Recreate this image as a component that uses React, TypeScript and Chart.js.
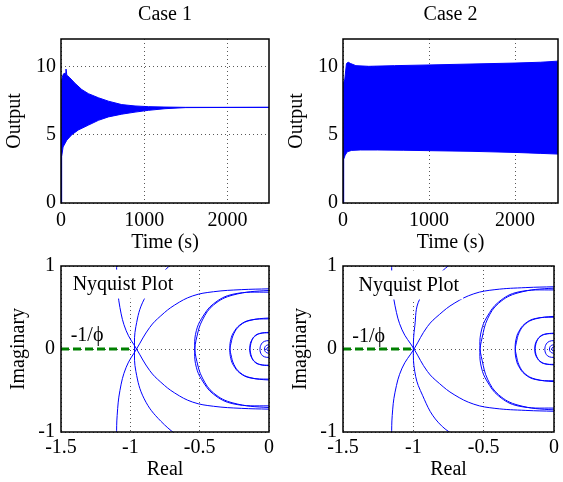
import React, { useEffect, useRef } from 'react';
import { Chart, registerables } from 'chart.js';

Chart.register(...registerables);

const FONT = '"Liberation Serif", "Times New Roman", Times, serif';
const PAGE_W = 563;
const PAGE_H = 482;
const BLUE = '#0000ff';
const GREEN = '#008000';

// ---------------- Top row: time responses ----------------
const timeTicks = [0, 1000, 2000];
const timeTickLabels = ['0', '1000', '2000'];
const outputTicks = [0, 5, 10];
const outputTickLabels = ['0', '5', '10'];

// Case 1: envelope of the decaying oscillation
const case1UpperT = [0, 4, 15, 30, 50, 60, 70, 100, 170, 250, 330, 450, 570, 730, 890, 1050, 1250, 1500, 2500];
const case1UpperY = [0, 8.8, 9.2, 9.45, 9.5, 9.8, 9.35, 9.2, 8.75, 8.3, 8.0, 7.7, 7.45, 7.2, 7.1, 7.05, 7.02, 7.0, 7.0];
const case1LowerT = [0, 8, 25, 70, 130, 210, 330, 450, 570, 730, 890, 1050, 1250, 1500, 2500];
const case1LowerY = [0, 3.4, 4.1, 4.6, 5.0, 5.35, 5.7, 6.05, 6.3, 6.5, 6.65, 6.78, 6.9, 6.98, 7.0];

// Case 2: envelope of the sustained oscillation
const case2UpperT = [0, 4, 20, 40, 60, 90, 150, 300, 600, 1000, 1500, 2000, 2300, 2500];
const case2UpperY = [0, 8.8, 9.0, 10.2, 10.3, 10.2, 10.05, 10.0, 10.05, 10.1, 10.17, 10.24, 10.3, 10.38];
const case2LowerT = [0, 8, 25, 50, 100, 200, 400, 700, 1000, 1500, 2000, 2300, 2500];
const case2LowerY = [0, 3.2, 3.5, 3.75, 3.85, 3.88, 3.88, 3.86, 3.83, 3.78, 3.7, 3.63, 3.58];

// ---------------- Bottom row: Nyquist plots ----------------
const realTicks = [-1.5, -1, -0.5, 0];
const realTickLabels = ['-1.5', '-1', '-0.5', '0'];
const imagTicks = [-1, 0, 1];
const imagTickLabels = ['-1', '0', '1'];

type Pt = [number, number];

// Case 1 Nyquist curves
const n1OuterA: Pt[] = [[0.05, 0.728], [0, 0.725], [-0.2, 0.715], [-0.4, 0.69], [-0.55, 0.64], [-0.68, 0.53], [-0.78, 0.4], [-0.86, 0.26], [-0.955, 0], [-1.03, -0.22], [-1.075, -0.5], [-1.095, -0.8], [-1.1, -1.05]];
const n1OuterB: Pt[] = [[0.05, -0.728], [0, -0.725], [-0.2, -0.715], [-0.4, -0.69], [-0.55, -0.64], [-0.68, -0.53], [-0.78, -0.4], [-0.86, -0.26], [-0.955, 0], [-1.03, 0.22], [-1.075, 0.5], [-1.095, 0.8], [-1.1, 1.05]];
const n1Loop1: Pt[] = [[-0.55, 1.2], [-0.75, 0.95], [-0.9, 0.6], [-0.96, 0.27], [-0.97, 0], [-0.96, -0.27], [-0.9, -0.6], [-0.78, -0.87], [-0.58, -1.15]];
const n1Loop2A: Pt[] = [[0.2, 0.69], [0, 0.705], [-0.26, 0.65], [-0.4, 0.53], [-0.48, 0.35], [-0.52, 0.15], [-0.536, -0.04], [-0.524, -0.22], [-0.485, -0.37], [-0.4, -0.545], [-0.26, -0.66], [0, -0.685], [0.2, -0.67]];
const n1Loop2B: Pt[] = [[0.2, -0.69], [0, -0.705], [-0.26, -0.65], [-0.4, -0.53], [-0.48, -0.35], [-0.52, -0.15], [-0.536, 0.04], [-0.524, 0.22], [-0.485, 0.37], [-0.4, 0.545], [-0.26, 0.66], [0, 0.685], [0.2, 0.67]];
const n1Loop3A: Pt[] = [[0.105, 0.365], [0, 0.373], [-0.137, 0.344], [-0.21, 0.283], [-0.253, 0.186], [-0.274, 0.07], [-0.282, -0.021], [-0.275, -0.117], [-0.256, -0.198], [-0.21, -0.29], [-0.137, -0.348], [0, -0.363], [0.105, -0.355]];
const n1Loop3B: Pt[] = [[0.105, -0.365], [0, -0.373], [-0.137, -0.344], [-0.21, -0.283], [-0.253, -0.186], [-0.274, -0.07], [-0.282, 0.021], [-0.275, 0.117], [-0.256, 0.198], [-0.21, 0.29], [-0.137, 0.348], [0, 0.363], [0.105, 0.355]];
const n1Loop4A: Pt[] = [[0.051, 0.197], [0, 0.201], [-0.067, 0.185], [-0.103, 0.152], [-0.124, 0.1], [-0.134, 0.037], [-0.138, -0.011], [-0.135, -0.063], [-0.125, -0.106], [-0.103, -0.157], [-0.067, -0.188], [0, -0.195], [0.051, -0.191]];
const n1Loop4B: Pt[] = [[0.051, -0.197], [0, -0.201], [-0.067, -0.185], [-0.103, -0.152], [-0.124, -0.1], [-0.134, -0.037], [-0.138, 0.011], [-0.135, 0.063], [-0.125, 0.106], [-0.103, 0.157], [-0.067, 0.188], [0, 0.195], [0.051, 0.191]];
const n1Loop5: Pt[] = [[0.033, 0.089], [0, 0.1], [-0.033, 0.092], [-0.055, 0.06], [-0.065, -0.005], [-0.055, -0.065], [-0.033, -0.094], [0, -0.1], [0.033, -0.087]];
const n1Loop6: Pt[] = [[0.016, 0.043], [0, 0.05], [-0.016, 0.045], [-0.028, 0.028], [-0.032, 0], [-0.028, -0.028], [-0.016, -0.045], [0, -0.05], [0.016, -0.043]];
const n1Loop7: Pt[] = [[0, 0.025], [-0.008, 0.022], [-0.014, 0.0125], [-0.016, 0], [-0.014, -0.0125], [-0.008, -0.022], [0, -0.025]];
const n1Critical: Pt[] = [[-1.5, 0], [-0.99, 0]];

// Case 2 Nyquist curves
const n2OuterA: Pt[] = [[0.05, 0.753], [0, 0.75], [-0.2, 0.74], [-0.42, 0.715], [-0.57, 0.665], [-0.71, 0.55], [-0.815, 0.415], [-0.9, 0.27], [-0.995, 0], [-1.08, -0.23], [-1.13, -0.52], [-1.15, -0.8], [-1.155, -1.05]];
const n2OuterB: Pt[] = [[0.05, -0.753], [0, -0.75], [-0.2, -0.74], [-0.42, -0.715], [-0.57, -0.665], [-0.71, -0.55], [-0.815, -0.415], [-0.9, -0.27], [-0.995, 0], [-1.08, 0.23], [-1.13, 0.52], [-1.15, 0.8], [-1.155, 1.05]];
const n2Loop1: Pt[] = [[-0.58, 1.2], [-0.8, 0.93], [-0.955, 0.6], [-0.99, 0.27], [-1.0, 0], [-0.99, -0.27], [-0.95, -0.5], [-0.82, -0.89], [-0.6, -1.15]];
const n2Loop2A: Pt[] = [[0.197, 0.718], [0, 0.733], [-0.256, 0.676], [-0.393, 0.552], [-0.472, 0.364], [-0.511, 0.135], [-0.527, -0.042], [-0.515, -0.229], [-0.477, -0.385], [-0.393, -0.567], [-0.256, -0.686], [0, -0.712], [0.197, -0.697]];
const n2Loop2B: Pt[] = [[0.197, -0.718], [0, -0.733], [-0.256, -0.676], [-0.393, -0.552], [-0.472, -0.364], [-0.511, -0.135], [-0.527, 0.042], [-0.515, 0.229], [-0.477, 0.385], [-0.393, 0.567], [-0.256, 0.686], [0, 0.712], [0.197, 0.697]];
const n2Loop3A: Pt[] = [[0.103, 0.385], [0, 0.393], [-0.134, 0.362], [-0.206, 0.298], [-0.248, 0.196], [-0.268, 0.074], [-0.276, -0.022], [-0.269, -0.123], [-0.251, -0.208], [-0.206, -0.306], [-0.134, -0.367], [0, -0.383], [0.103, -0.374]];
const n2Loop3B: Pt[] = [[0.103, -0.385], [0, -0.393], [-0.134, -0.362], [-0.206, -0.298], [-0.248, -0.196], [-0.268, -0.074], [-0.276, 0.022], [-0.269, 0.123], [-0.251, 0.208], [-0.206, 0.306], [-0.134, 0.367], [0, 0.383], [0.103, 0.374]];
const n2Loop4A: Pt[] = [[0.05, 0.187], [0, 0.191], [-0.066, 0.176], [-0.101, 0.144], [-0.122, 0.095], [-0.132, 0.035], [-0.136, -0.01], [-0.133, -0.06], [-0.123, -0.1], [-0.101, -0.149], [-0.066, -0.179], [0, -0.185], [0.05, -0.181]];
const n2Loop4B: Pt[] = [[0.05, -0.187], [0, -0.191], [-0.066, -0.176], [-0.101, -0.144], [-0.122, -0.095], [-0.132, -0.035], [-0.136, 0.01], [-0.133, 0.06], [-0.123, 0.1], [-0.101, 0.149], [-0.066, 0.179], [0, 0.185], [0.05, 0.181]];
const n2Loop5: Pt[] = [[0.033, 0.089], [0, 0.1], [-0.033, 0.092], [-0.055, 0.06], [-0.065, -0.005], [-0.055, -0.065], [-0.033, -0.094], [0, -0.1], [0.033, -0.087]];
const n2Loop6: Pt[] = [[0.016, 0.043], [0, 0.05], [-0.016, 0.045], [-0.028, 0.028], [-0.032, 0], [-0.028, -0.028], [-0.016, -0.045], [0, -0.05], [0.016, -0.043]];
const n2Loop7: Pt[] = [[0, 0.025], [-0.008, 0.022], [-0.014, 0.0125], [-0.016, 0], [-0.014, -0.0125], [-0.008, -0.022], [0, -0.025]];
const n2Critical: Pt[] = [[-1.5, 0], [-1.0, 0]];

const nyquistLabel = 'Nyquist Plot';
const phiLabel = '-1/\u03d5';

// ---------------- helpers ----------------
const zipXY = (xs: number[], ys: number[]) => xs.map((x, i) => ({ x, y: ys[i] }));
const toXY = (pts: Pt[]) => pts.map(([x, y]) => ({ x, y }));

const bandDatasets = (uT: number[], uY: number[], lT: number[], lY: number[]) => [
  {
    data: zipXY(uT, uY),
    borderColor: BLUE,
    backgroundColor: BLUE,
    borderWidth: 1,
    pointRadius: 0,
    tension: 0,
    fill: '+1',
  },
  {
    data: zipXY(lT, lY),
    borderColor: BLUE,
    backgroundColor: BLUE,
    borderWidth: 1,
    pointRadius: 0,
    tension: 0,
    fill: false,
  },
];

const curve = (pts: Pt[]) => ({
  data: toXY(pts),
  borderColor: BLUE,
  borderWidth: 1,
  pointRadius: 0,
  showLine: true,
  tension: 0.4,
  fill: false,
});

const critical = (pts: Pt[]) => ({
  data: toXY(pts),
  borderColor: GREEN,
  borderWidth: 3,
  borderDash: [8, 4],
  pointRadius: 0,
  showLine: true,
  tension: 0,
  fill: false,
});

const frameAndText = {
  id: 'frameAndText',
  afterDatasetsDraw(chart: any, _args: any, opts: any) {
    const { ctx, chartArea: a, scales } = chart;
    ctx.save();
    const texts = (opts && opts.texts) || [];
    texts.forEach((t: any) => {
      ctx.font = `20px ${FONT}`;
      const x = scales.x.getPixelForValue(t.x);
      const y = scales.y.getPixelForValue(t.y);
      const w = ctx.measureText(t.text).width;
      if (t.bg) {
        ctx.fillStyle = '#ffffff';
        ctx.fillRect(x - 4, y - 15.5, w + 8, 29);
      }
      ctx.fillStyle = '#000000';
      ctx.textAlign = 'left';
      ctx.textBaseline = 'middle';
      ctx.fillText(t.text, x, y);
    });
    ctx.strokeStyle = '#000000';
    ctx.lineWidth = 1.5;
    ctx.strokeRect(a.left, a.top, a.right - a.left, a.bottom - a.top);
    ctx.restore();
  },
};

interface Panel {
  type: 'line' | 'scatter';
  padding: { left: number; top: number; right: number; bottom: number };
  yWidth: number;
  xHeight: number;
  title?: string;
  xMin: number; xMax: number; yMin: number; yMax: number;
  xTicks: number[]; xTickLabels: string[];
  yTicks: number[]; yTickLabels: string[];
  xTitle: string; yTitle: string;
  xTickPad: number; yTickPad: number; yTitlePad: number;
  datasets: any[];
  texts?: any[];
}

const font = { family: FONT, size: 20, weight: 'normal' as const };

function buildConfig(p: Panel): any {
  const lab = (ticks: number[], labels: string[]) => (v: number) => {
    const i = ticks.findIndex((t) => Math.abs(t - v) < 1e-9);
    return i >= 0 ? labels[i] : '';
  };
  return {
    type: p.type,
    data: { datasets: p.datasets },
    options: {
      responsive: false,
      animation: false,
      devicePixelRatio: 1,
      events: [],
      layout: { padding: p.padding },
      elements: { line: { capBezierPoints: false } },
      plugins: {
        legend: { display: false },
        tooltip: { enabled: false },
        title: p.title
          ? { display: true, text: p.title, fullSize: false, color: '#000', font, padding: { top: 3, bottom: 12 } }
          : { display: false },
        frameAndText: { texts: p.texts || [] },
      },
      scales: {
        x: {
          type: 'linear',
          min: p.xMin,
          max: p.xMax,
          afterBuildTicks: (s: any) => { s.ticks = p.xTicks.map((v) => ({ value: v })); },
          afterFit: (s: any) => { s.height = p.xHeight; },
          ticks: { callback: lab(p.xTicks, p.xTickLabels), color: '#000', font, padding: p.xTickPad, maxRotation: 0, autoSkip: false },
          grid: { color: 'rgba(0,0,0,0.65)', lineWidth: 1, drawTicks: false },
          border: { display: false, dash: [1, 3] },
          title: { display: true, text: p.xTitle, color: '#000', font, padding: { top: 0, bottom: 0 } },
        },
        y: {
          type: 'linear',
          min: p.yMin,
          max: p.yMax,
          afterBuildTicks: (s: any) => { s.ticks = p.yTicks.map((v) => ({ value: v })); },
          afterFit: (s: any) => { s.width = p.yWidth; },
          ticks: { callback: lab(p.yTicks, p.yTickLabels), color: '#000', font, padding: p.yTickPad, autoSkip: false },
          grid: { color: 'rgba(0,0,0,0.65)', lineWidth: 1, drawTicks: false },
          border: { display: false, dash: [1, 3] },
          title: { display: true, text: p.yTitle, color: '#000', font, padding: { top: p.yTitlePad, bottom: 0 } },
        },
      },
    },
    plugins: [frameAndText],
  };
}

const panels: Panel[] = [
  {
    type: 'line',
    padding: { left: 0, top: 0, right: 294, bottom: 227 },
    yWidth: 61, xHeight: 52, title: 'Case 1',
    xMin: 0, xMax: 2500, yMin: 0, yMax: 12,
    xTicks: timeTicks, xTickLabels: timeTickLabels, yTicks: outputTicks, yTickLabels: outputTickLabels,
    xTitle: 'Time (s)', yTitle: 'Output', xTickPad: 6, yTickPad: 5, yTitlePad: 3,
    datasets: bandDatasets(case1UpperT, case1UpperY, case1LowerT, case1LowerY),
  },
  {
    type: 'line',
    padding: { left: 281, top: 0, right: 5, bottom: 227 },
    yWidth: 62, xHeight: 52, title: 'Case 2',
    xMin: 0, xMax: 2500, yMin: 0, yMax: 12,
    xTicks: timeTicks, xTickLabels: timeTickLabels, yTicks: outputTicks, yTickLabels: outputTickLabels,
    xTitle: 'Time (s)', yTitle: 'Output', xTickPad: 6, yTickPad: 5, yTitlePad: 4,
    datasets: bandDatasets(case2UpperT, case2UpperY, case2LowerT, case2LowerY),
  },
  {
    type: 'scatter',
    padding: { left: 0, top: 266, right: 294, bottom: 0 },
    yWidth: 61, xHeight: 50,
    xMin: -1.5, xMax: 0, yMin: -1, yMax: 1,
    xTicks: realTicks, xTickLabels: realTickLabels, yTicks: imagTicks, yTickLabels: imagTickLabels,
    xTitle: 'Real', yTitle: 'Imaginary', xTickPad: 4, yTickPad: 6, yTitlePad: 7,
    datasets: [
      curve(n1OuterA), curve(n1OuterB), curve(n1Loop1), curve(n1Loop2A), curve(n1Loop2B),
      curve(n1Loop3A), curve(n1Loop3B), curve(n1Loop4A), curve(n1Loop4B), curve(n1Loop5),
      curve(n1Loop6), curve(n1Loop7), critical(n1Critical),
    ],
    texts: [
      { text: nyquistLabel, x: -1.416, y: 0.77, bg: true },
      { text: phiLabel, x: -1.43, y: 0.155, bg: false },
    ],
  },
  {
    type: 'scatter',
    padding: { left: 281, top: 266, right: 5, bottom: 0 },
    yWidth: 62, xHeight: 50,
    xMin: -1.5, xMax: 0, yMin: -1, yMax: 1,
    xTicks: realTicks, xTickLabels: realTickLabels, yTicks: imagTicks, yTickLabels: imagTickLabels,
    xTitle: 'Real', yTitle: 'Imaginary', xTickPad: 4, yTickPad: 6, yTitlePad: 8,
    datasets: [
      curve(n2OuterA), curve(n2OuterB), curve(n2Loop1), curve(n2Loop2A), curve(n2Loop2B),
      curve(n2Loop3A), curve(n2Loop3B), curve(n2Loop4A), curve(n2Loop4B), curve(n2Loop5),
      curve(n2Loop6), curve(n2Loop7), critical(n2Critical),
    ],
    texts: [
      { text: nyquistLabel, x: -1.39, y: 0.76, bg: true },
      { text: phiLabel, x: -1.434, y: 0.143, bg: false },
    ],
  },
];

function PanelCanvas({ panel }: { panel: Panel }) {
  const ref = useRef<HTMLCanvasElement | null>(null);
  useEffect(() => {
    if (!ref.current) return;
    const chart = new Chart(ref.current, buildConfig(panel));
    return () => chart.destroy();
  }, [panel]);
  return (
    <canvas
      ref={ref}
      width={PAGE_W}
      height={PAGE_H}
      style={{ position: 'absolute', left: 0, top: 0, width: PAGE_W, height: PAGE_H }}
    />
  );
}

export default function App() {
  return (
    <div style={{ position: 'fixed', left: 0, top: 0, width: PAGE_W, height: PAGE_H, background: '#ffffff' }}>
      {panels.map((p, i) => (
        <PanelCanvas key={i} panel={p} />
      ))}
    </div>
  );
}
